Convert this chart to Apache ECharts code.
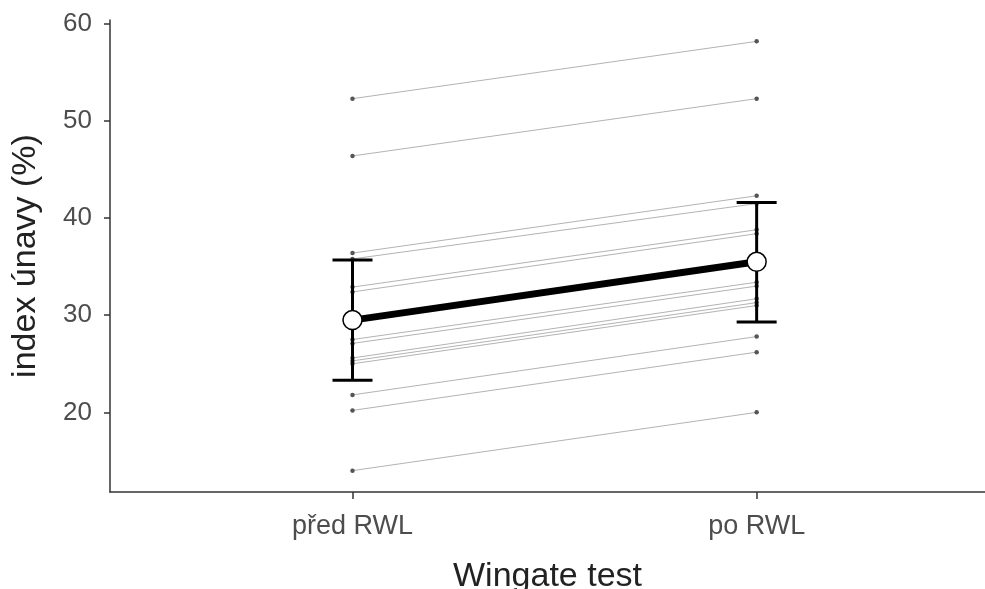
<!DOCTYPE html>
<html><head><meta charset="utf-8">
<script src="https://cdn.jsdelivr.net/npm/echarts@6/dist/echarts.min.js"></script>
<style>html,body{margin:0;padding:0;background:#fff}#c{width:985px;height:589px}</style>
</head><body><div id="c"></div>
<script>
const categories = ['před RWL', 'po RWL'];
const before = [52.3, 46.4, 36.4, 35.8, 32.9, 32.4, 27.5, 27.1, 25.6, 25.3, 25.0, 21.8, 20.2, 14.0];
const after  = [58.2, 52.3, 42.3, 41.5, 38.8, 38.4, 33.4, 33.0, 31.7, 31.3, 31.0, 27.8, 26.2, 20.0];
const meanValues = [29.5, 35.5];
const ciLower = [23.3, 29.3];
const ciUpper = [35.7, 41.6];
const yTicks = [20, 30, 40, 50, 60];
const xTicks = [1, 2];

const FONT = 'Liberation Sans, Arial, sans-serif';
const chart = echarts.init(document.getElementById('c'), null, {renderer: 'canvas'});

const subjectSeries = before.map((b, i) => ({
  type: 'line',
  data: [[1, b], [2, after[i]]],
  symbol: 'circle',
  symbolSize: 4.5,
  itemStyle: {color: '#555555'},
  lineStyle: {color: '#b3b3b3', width: 1},
  z: 2,
  silent: true,
  animation: false
}));

const errorSeries = {
  type: 'custom',
  data: categories.map((c, i) => [i + 1, ciLower[i], ciUpper[i]]),
  z: 3,
  animation: false,
  renderItem: function (params, api) {
    const x = api.value(0);
    const lo = api.coord([x, api.value(1)]);
    const hi = api.coord([x, api.value(2)]);
    const hw = 20;
    const st = {stroke: '#000', lineWidth: 3};
    return {
      type: 'group',
      children: [
        {type: 'line', shape: {x1: lo[0], y1: lo[1], x2: hi[0], y2: hi[1]}, style: st},
        {type: 'line', shape: {x1: lo[0] - hw, y1: lo[1], x2: lo[0] + hw, y2: lo[1]}, style: st},
        {type: 'line', shape: {x1: hi[0] - hw, y1: hi[1], x2: hi[0] + hw, y2: hi[1]}, style: st}
      ]
    };
  }
};

const meanSeries = {
  type: 'line',
  data: meanValues.map((v, i) => [i + 1, v]),
  symbol: 'circle',
  symbolSize: 19,
  itemStyle: {color: '#ffffff', borderColor: '#000', borderWidth: 1.5},
  lineStyle: {color: '#000', width: 7},
  z: 5,
  animation: false
};

chart.setOption({
  backgroundColor: '#ffffff',
  animation: false,
  grid: {left: 110, right: 0, top: 20, bottom: 97, containLabel: false, outerBoundsMode: 'none'},
  xAxis: {
    type: 'value', min: 0.4, max: 2.565,
    name: 'Wingate test', nameLocation: 'middle', nameGap: 68,
    nameTextStyle: {fontFamily: FONT, fontSize: 34, color: '#222'},
    axisLine: {show: true, onZero: false, lineStyle: {color: '#333', width: 1.5}},
    axisTick: {show: true, customValues: xTicks, length: 7, lineStyle: {color: '#333', width: 1.5}},
    axisLabel: {customValues: xTicks, margin: 21, fontFamily: FONT, fontSize: 27, color: '#4d4d4d',
      formatter: v => categories[Math.round(v) - 1] || ''},
    splitLine: {show: false}
  },
  yAxis: {
    type: 'value', min: 11.8, max: 60.4,
    name: 'index únavy (%)', nameLocation: 'middle', nameGap: 67,
    nameTextStyle: {fontFamily: FONT, fontSize: 34, color: '#222'},
    axisLine: {show: true, onZero: false, lineStyle: {color: '#333', width: 1.5}},
    axisTick: {show: true, customValues: yTicks, length: 6, lineStyle: {color: '#333', width: 1.5}},
    axisLabel: {customValues: yTicks, margin: 18, fontFamily: FONT, fontSize: 26, color: '#4d4d4d'},
    splitLine: {show: false}
  },
  series: subjectSeries.concat([errorSeries, meanSeries])
});
</script></body></html>
